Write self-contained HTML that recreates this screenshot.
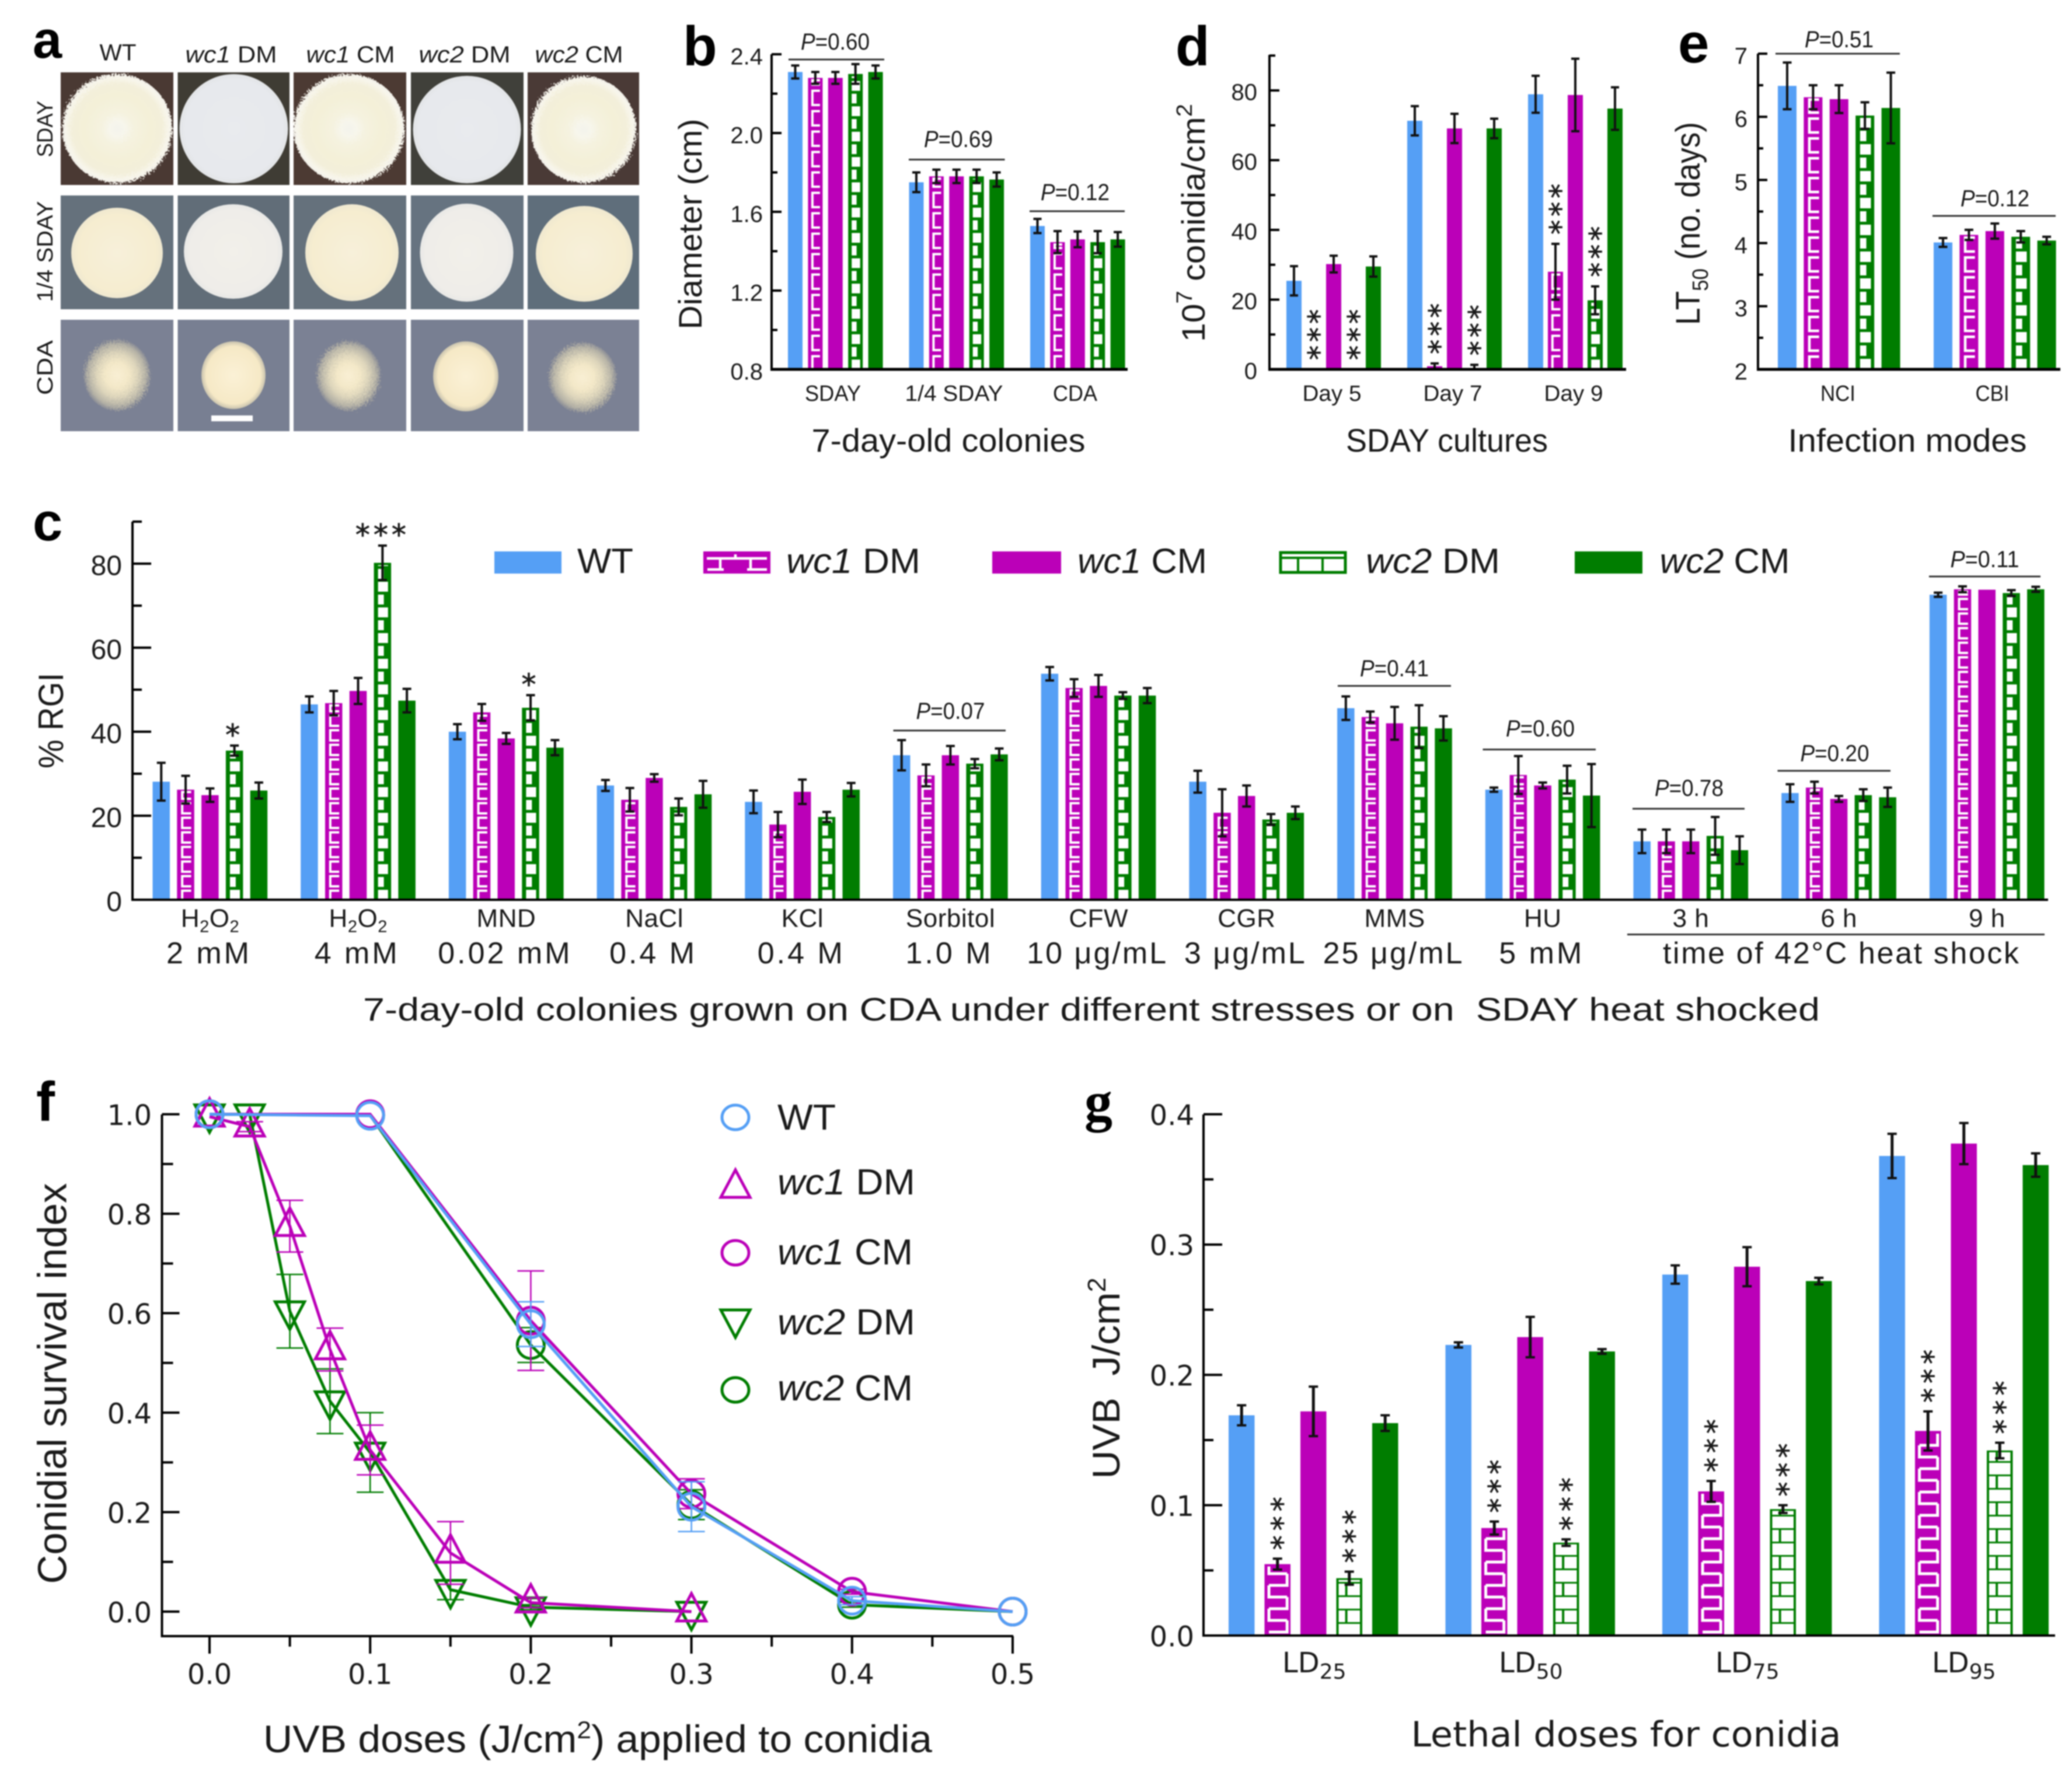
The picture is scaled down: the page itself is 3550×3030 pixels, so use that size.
<!DOCTYPE html>
<html lang="en">
<head>
<meta charset="utf-8">
<title>Conidial phenotype figure</title>
<style>
html,body{margin:0;padding:0;background:#fff;width:3550px;height:3030px;overflow:hidden}
svg{display:block;filter:blur(1px)}
text{font-family:"Liberation Sans",sans-serif;fill:#1a1a1a}
</style>
</head>
<body>
<svg id="fig" xmlns="http://www.w3.org/2000/svg" width="3550" height="3030" viewBox="0 0 3550 3030">
<defs>
<radialGradient id="gWT"><stop offset="0" stop-color="#f3f3ec"/><stop offset=".14" stop-color="#f7f6ec"/><stop offset=".3" stop-color="#f5f2df"/><stop offset=".6" stop-color="#f4f0d8"/><stop offset=".82" stop-color="#f3efda"/><stop offset=".94" stop-color="#f8f6ec"/><stop offset="1" stop-color="#f0eee8"/></radialGradient>
<radialGradient id="gWhite"><stop offset="0" stop-color="#e9ebee"/><stop offset=".9" stop-color="#e7e9ed"/><stop offset="1" stop-color="#e2e4e6"/></radialGradient>
<radialGradient id="gCream"><stop offset="0" stop-color="#f7f0da"/><stop offset=".85" stop-color="#f6edd0"/><stop offset="1" stop-color="#efe8d0"/></radialGradient>
<radialGradient id="gPale"><stop offset="0" stop-color="#f2f0ea"/><stop offset=".88" stop-color="#efede9"/><stop offset="1" stop-color="#e8e8e6"/></radialGradient>
<radialGradient id="gFuzzy"><stop offset="0" stop-color="#f9efd4"/><stop offset=".35" stop-color="#f3e8c8"/><stop offset=".6" stop-color="#ddd5bb"/><stop offset=".85" stop-color="#b5b2a6"/><stop offset=".97" stop-color="#8f9198"/><stop offset="1" stop-color="#7a8093"/></radialGradient>
<radialGradient id="gSolid"><stop offset="0" stop-color="#fbf1d6"/><stop offset=".85" stop-color="#f6e9c6"/><stop offset="1" stop-color="#c8c2ae"/></radialGradient>
<filter id="fz" x="-10%" y="-10%" width="120%" height="120%"><feTurbulence type="fractalNoise" baseFrequency="0.35" numOctaves="2" seed="4"/><feDisplacementMap in="SourceGraphic" scale="14"/></filter>
</defs>

<g>
<text x="56" y="99" font-size="90" font-weight="bold" style="fill:#000">a</text>
<g font-size="40">
<text x="202" y="103.5" text-anchor="middle" textLength="63" lengthAdjust="spacingAndGlyphs">WT</text>
<text x="396" y="107" text-anchor="middle" textLength="157" lengthAdjust="spacingAndGlyphs"><tspan font-style="italic">wc1</tspan> DM</text>
<text x="600.5" y="107" text-anchor="middle" textLength="152" lengthAdjust="spacingAndGlyphs"><tspan font-style="italic">wc1</tspan> CM</text>
<text x="796" y="107" text-anchor="middle" textLength="157" lengthAdjust="spacingAndGlyphs"><tspan font-style="italic">wc2</tspan> DM</text>
<text x="992" y="107" text-anchor="middle" textLength="151" lengthAdjust="spacingAndGlyphs"><tspan font-style="italic">wc2</tspan> CM</text>
</g>
<g font-size="38">
<text transform="rotate(-90 90 221)" x="90" y="221" text-anchor="middle" textLength="97" lengthAdjust="spacingAndGlyphs">SDAY</text>
<text transform="rotate(-90 90 431)" x="90" y="431" text-anchor="middle" textLength="173" lengthAdjust="spacingAndGlyphs">1/4 SDAY</text>
<text transform="rotate(-90 90 630)" x="90" y="630" text-anchor="middle" textLength="94" lengthAdjust="spacingAndGlyphs">CDA</text>
</g>
<g>
<rect x="104" y="124" width="193" height="193" fill="#4a3933"/>
<rect x="304.5" y="124" width="191.5" height="193" fill="#3f3c34"/>
<rect x="503" y="124" width="193" height="193" fill="#4c3a33"/>
<rect x="704" y="124" width="193" height="193" fill="#40403a"/>
<rect x="904" y="124" width="191" height="193" fill="#4a3a36"/>
<ellipse cx="201" cy="220.5" rx="94" ry="93.5" fill="url(#gWT)" filter="url(#fz)"/>
<ellipse cx="400.5" cy="220.5" rx="93" ry="93.5" fill="url(#gWhite)"/>
<ellipse cx="598" cy="220.5" rx="95" ry="93.5" fill="url(#gWT)" filter="url(#fz)"/>
<ellipse cx="800" cy="222" rx="92.5" ry="92" fill="url(#gWhite)"/>
<ellipse cx="1000" cy="222" rx="90" ry="91.5" fill="url(#gWT)" filter="url(#fz)"/>
</g>
<g>
<rect x="104" y="335" width="193" height="195" fill="#65717c"/>
<rect x="304.5" y="335" width="191.5" height="195" fill="#616d78"/>
<rect x="503" y="335" width="193" height="195" fill="#65717c"/>
<rect x="704" y="335" width="193" height="195" fill="#667380"/>
<rect x="904" y="335" width="191" height="195" fill="#5f6e7b"/>
<ellipse cx="200.5" cy="433.5" rx="78.5" ry="77.5" fill="url(#gCream)"/>
<ellipse cx="399.5" cy="431" rx="84.5" ry="81" fill="url(#gPale)"/>
<ellipse cx="603" cy="433" rx="80" ry="83" fill="url(#gCream)"/>
<ellipse cx="799.5" cy="433" rx="80" ry="84" fill="url(#gPale)"/>
<ellipse cx="1001" cy="435" rx="83" ry="82" fill="url(#gCream)"/>
</g>
<g>
<rect x="104" y="548" width="193" height="191" fill="#7b8194"/>
<rect x="304.5" y="548" width="191.5" height="191" fill="#787f92"/>
<rect x="503" y="548" width="193" height="191" fill="#7b8194"/>
<rect x="704" y="548" width="193" height="191" fill="#787f92"/>
<rect x="904" y="548" width="191" height="191" fill="#7b8194"/>
<ellipse cx="200.5" cy="643" rx="58" ry="62" fill="url(#gFuzzy)" filter="url(#fz)"/>
<ellipse cx="400" cy="643" rx="55" ry="58" fill="url(#gSolid)"/>
<ellipse cx="597" cy="644" rx="56" ry="61" fill="url(#gFuzzy)" filter="url(#fz)"/>
<ellipse cx="798" cy="645" rx="56" ry="60" fill="url(#gSolid)"/>
<ellipse cx="998" cy="647" rx="59" ry="61" fill="url(#gFuzzy)" filter="url(#fz)"/>
<rect x="362" y="712" width="71" height="10" fill="#fff"/>
</g>
</g>
<g id="charts"></g>
</svg>

<script>
// ---------- Panel b data ----------
const bCategories = ['SDAY', '1/4 SDAY', 'CDA'];
const bWT = [2.31, 1.75, 1.528];
const bWc1DM = [2.28, 1.78, 1.446];
const bWc1CM = [2.28, 1.78, 1.46];
const bWc2DM = [2.30, 1.78, 1.446];
const bWc2CM = [2.31, 1.764, 1.46];
const bErrWT = [.033, .05, .036];
const bErrWc1DM = [.03, .034, .056];
const bErrWc1CM = [.03, .034, .04];
const bErrWc2DM = [.05, .034, .056];
const bErrWc2CM = [.033, .036, .037];
const bMajor = [0.8, 1.2, 1.6, 2.0, 2.4];
const bMinor = [1.0, 1.4, 1.8, 2.2];

// ---------- Panel c data ----------
const cLine1 = ['H<tspan dy="9" font-size="29">2</tspan><tspan dy="-9">O</tspan><tspan dy="9" font-size="29">2</tspan>', 'H<tspan dy="9" font-size="29">2</tspan><tspan dy="-9">O</tspan><tspan dy="9" font-size="29">2</tspan>', 'MND', 'NaCl', 'KCl', 'Sorbitol', 'CFW', 'CGR', 'MMS', 'HU', '3 h', '6 h', '9 h'];
const cLine2 = ['2 mM', '4 mM', '0.02 mM', '0.4 M', '0.4 M', '1.0 M', '10 μg/mL', '3 μg/mL', '25 μg/mL', '5 mM'];
const cWT = [28.1, 46.5, 40, 27.2, 23.3, 34.4, 53.8, 28.1, 45.6, 26.2, 13.9, 25.4, 72.6];
const cWc1DM = [26.2, 46.8, 44.6, 23.8, 17.9, 29.6, 50.4, 20.7, 43.5, 29.7, 13.9, 26.7, 73.9];
const cWc1CM = [24.9, 49.7, 38.4, 29, 25.7, 34.4, 50.9, 24.7, 42, 27.2, 13.9, 24, 73.8];
const cWc2DM = [35.5, 80.2, 45.7, 22.1, 19.7, 32.4, 48.6, 19.1, 41.2, 28.6, 15.2, 24.9, 73];
const cWc2CM = [26, 47.4, 36.2, 25.1, 26.2, 34.6, 48.6, 20.7, 40.8, 24.8, 11.8, 24.4, 73.9];
const cErrWT = [4.5, 1.9, 1.8, 1.3, 2.7, 3.6, 1.6, 2.6, 2.8, .5, 2.8, 2.1, .5];
const cErrWc1DM = [3.3, 2.9, 2, 2.8, 3, 2.6, 2.1, 5.6, 1.3, 4.5, 2.8, 1.4, .7];
const cErrWc1CM = [1.6, 3.1, 1.3, .9, 2.9, 2.2, 2.6, 2.5, 3.9, .7, 2.8, .7, 0];
const cErrWc2DM = [1.2, 4.1, 3, 2, 1.2, 1.1, .8, 1.3, 5.1, 3.3, 4.5, 1.4, .7];
const cErrWc2CM = [1.9, 2.8, 1.8, 3.2, 1.6, 1.4, 1.8, 1.5, 2.9, 7.5, 3.3, 2.3, .6];
const cMajor = [0, 20, 40, 60, 80];
const cMinor = [10, 30, 50, 70, 90];

// ---------- Panel d data ----------
const dCategories = ['Day 5', 'Day 7', 'Day 9'];
const dWT = [25.4, 71.3, 78.9];
const dWc1DM = [0, .9, 28];
const dWc1CM = [30.2, 69.1, 78.7];
const dWc2DM = [0, .4, 19.8];
const dWc2CM = [29.5, 69.1, 74.8];
const dErrWT = [4.2, 4.2, 5.3];
const dErrWc1DM = [0, .8, 8];
const dErrWc1CM = [2.4, 4.2, 10.4];
const dErrWc2DM = [0, .9, 4];
const dErrWc2CM = [2.9, 2.8, 6.1];
const dMajor = [0, 20, 40, 60, 80];
const dMinor = [10, 30, 50, 70, 90];

// ---------- Panel e data ----------
const eCategories = ['NCI', 'CBI'];
const eWT = [6.49, 4.01];
const eWc1DM = [6.31, 4.13];
const eWc1CM = [6.28, 4.19];
const eWc2DM = [6.02, 4.10];
const eWc2CM = [6.14, 4.04];
const eErrWT = [.37, .07];
const eErrWc1DM = [.19, .08];
const eErrWc1CM = [.22, .12];
const eErrWc2DM = [.21, .09];
const eErrWc2CM = [.56, .06];
const eMajor = [2, 3, 4, 5, 6, 7];
const eMinor = [2.5, 3.5, 4.5, 5.5, 6.5];

// ---------- Panel f data ----------
const fDoseDM = [0, .025, .05, .075, .1, .15, .2, .3];
const fDoseCM = [0, .1, .2, .3, .4, .5];
const fWc1DM = [.995, .975, .775, .527, .325, .118, .018, 0];
const fWc2DM = [1, 1, .604, .423, .32, .044, .009, 0];
const fWT = [1, .997, .578, .211, .022, 0];
const fWc1CM = [1, 1, .585, .237, .04, 0];
const fWc2CM = [1, .998, .536, .215, .014, 0];
const fErrWc1DM = [0, .01, .052, .043, .05, .063, .01, 0];
const fErrWc2DM = [0, 0, .074, .065, .08, .02, .005, 0];
const fErrWT = [0, 0, .045, .05, .008, 0];
const fErrWc1CM = [0, 0, .1, .03, .005, 0];
const fErrWc2CM = [0, 0, .035, .03, .005, 0];
const fYMajor = [0, .2, .4, .6, .8, 1];
const fYMinor = [.1, .3, .5, .7, .9];
const fXMajor = [0, .1, .2, .3, .4, .5];
const fXMinor = [.05, .15, .25, .35, .45];

// ---------- Panel g data ----------
const gCategories = ['25', '50', '75', '95'];
const gWT = [.169, .223, .277, .368];
const gWc1DM = [.0548, .0825, .1106, .157];
const gWc1CM = [.172, .229, .283, .3775];
const gWc2DM = [.044, .0713, .097, .142];
const gWc2CM = [.163, .218, .272, .361];
const gErrWT = [.0077, .002, .007, .017];
const gErrWc1DM = [.0042, .005, .008, .015];
const gErrWc1CM = [.019, .0155, .015, .0158];
const gErrWc2DM = [.005, .0025, .003, .006];
const gErrWc2CM = [.006, .0018, .0025, .009];
const gMajor = [0, .1, .2, .3, .4];
const gMinor = [.05, .15, .25, .35];

const seriesKeys = ['wt', 'wc1-dm', 'wc1-cm', 'wc2-dm', 'wc2-cm'];
const BLUE = '#559ff5', MAG = '#bb00b8', GRN = '#007d00';
const NS = 'http://www.w3.org/2000/svg';
const root = document.getElementById('charts');

function add(parent, tag, attrs, name) {
  const el = document.createElementNS(NS, tag);
  for (const k in attrs) el.setAttribute(k, attrs[k]);
  
  
  parent.appendChild(el);
  return el;
}
function group(parent, name) { return add(parent, 'g', {}, name); }
function line(parent, x1, y1, x2, y2, stroke, sw, name) {
  return add(parent, 'line', {x1, y1, x2, y2, stroke, 'stroke-width': sw}, name);
}
function txt(parent, name, x, y, content, o) {
  o = o || {};
  const a = {x, y, 'font-size': o.size || 36, 'text-anchor': o.anchor || 'middle'};
  if (o.len) { a.textLength = o.len; a.lengthAdjust = o.adjust || 'spacingAndGlyphs'; }
  if (o.rot) a.transform = 'rotate(' + o.rot + ' ' + x + ' ' + y + ')';
  if (o.weight) a['font-weight'] = o.weight;
  if (o.ls) a['letter-spacing'] = o.ls;
  const el = add(parent, 'text', a, name);
  if (o.font) el.style.fontFamily = o.font;
  if (o.fill) el.style.fill = o.fill;
  if (o.star) { el.style.stroke = '#1a1a1a'; el.style.strokeWidth = '0.8px'; }
  el.innerHTML = content;
  return el;
}
const DJ = '"DejaVu Sans",sans-serif';

function yAxis(g, c) {
  const ax = group(g, 'y-axis');
  line(ax, c.x, c.top, c.x, c.bottom, '#000', c.sw || 4, 'y-axis-line');
  c.major.forEach(function (v) {
    line(ax, c.x, c.y(v), c.x + c.majLen, c.y(v), '#000', c.tsw || 4, 'y-major-tick');
    txt(ax, 'y-tick-label', c.labelX, c.y(v) + (c.dy || 0) + c.size * .36, c.fmt(v), {size: c.size, anchor: 'end', font: c.font});
  });
  c.minor.forEach(function (v) {
    line(ax, c.x, c.y(v), c.x + c.minLen, c.y(v), '#000', c.tsw || 4, 'y-minor-tick');
  });
}

function magentaPath(x, y, w, h, p, wide) {
  const b = y + h, top = y + 4;
  const cl = function (v) { return Math.max(top, Math.min(b, v)); };
  let d = '';
  if (wide) {
    const xl = x + w * .17, xr = x + w * .87;
    let left = true;
    for (let yy = b - 6; yy > top + 2; yy -= p) {
      const n = cl(yy - p);
      d += left ? 'M' + xl + ' ' + yy + 'H' + xr + 'V' + n : 'M' + xr + ' ' + yy + 'H' + xl + 'V' + n;
      left = !left;
    }
  } else {
    const xl = x + w * .3, xr = x + w * .82;
    for (let k = 0; b - k * p > top; k++) {
      const a = cl(b - k * p + 2), t = cl(b - k * p + 2 - p * .7);
      if (a - t > 2) d += 'M' + xr + ' ' + a + 'H' + xl + 'V' + t + 'H' + xr;
    }
  }
  return d;
}
function greenPath(x, y, w, h, p, gap, wide) {
  const b = y + h, top = y + (wide ? 3 : 4);
  const xl = x + (wide ? 4 : w * .24), xr = x + w - (wide ? 4 : w * .18);
  const cl = function (v) { return Math.max(top, Math.min(b, v)); };
  let d = '';
  for (let k = 0; b - k * p > top; k++) {
    const y1 = cl(b - k * p), y0 = cl(b - k * p - p + gap);
    if (y1 - y0 < 1) continue;
    if (k % 2 === 0) {
      d += 'M' + xl + ' ' + y0 + 'H' + xr + 'V' + y1 + 'H' + xl + 'Z';
    } else if (wide) {
      const s = xl + (xr - xl) * .36;
      d += 'M' + xl + ' ' + y0 + 'H' + (s - 2) + 'V' + y1 + 'H' + xl + 'Z';
      d += 'M' + (s + 2) + ' ' + y0 + 'H' + xr + 'V' + y1 + 'H' + (s + 2) + 'Z';
    } else {
      const s = xl + (xr - xl) * .58;
      d += 'M' + xl + ' ' + y0 + 'H' + s + 'V' + y1 + 'H' + xl + 'Z';
    }
  }
  return d;
}

function drawBars(g, c) {
  const colors = [BLUE, MAG, MAG, GRN, GRN];
  c.values.forEach(function (vals, s) {
    vals.forEach(function (v, i) {
      const x = c.x0 + i * c.groupStep + s * c.barStep;
      const y = c.y(v), h = c.y(c.floor) - y;
      const nm = 'bar-' + seriesKeys[s] + '-' + (i + 1);
      if (h > 0) {
        add(g, 'rect', {x, y, width: c.barW, height: h, fill: colors[s]}, nm);
        if (s === 1 && h > 6) add(g, 'path', {d: magentaPath(x, y, c.barW, h, c.magP, c.wide), fill: 'none', stroke: '#fff', 'stroke-width': c.magSw}, nm + '-hatch');
        if (s === 3 && h > 6) add(g, 'path', {d: greenPath(x, y, c.barW, h, c.grnP, c.grnGap, c.wide), fill: '#fff'}, nm + '-hatch');
      }
      const e = c.errors[s][i];
      if (e > 0) {
        const cx = x + c.barW / 2;
        const yT = c.y(v + e), yB = c.y(Math.max(c.floor, v - e));
        const eb = group(g, 'error-bar-' + seriesKeys[s] + '-' + (i + 1));
        line(eb, cx, yT, cx, yB, '#111', c.errSw, 'error-stem');
        line(eb, cx - c.capW / 2, yT, cx + c.capW / 2, yT, '#111', c.capSw, 'error-cap-top');
        line(eb, cx - c.capW / 2, yB, cx + c.capW / 2, yB, '#111', c.capSw, 'error-cap-bottom');
      }
    });
  });
}
function capTop(c, s, i) { return c.y(c.values[s][i] + c.errors[s][i]); }
function vStars(g, c, s, i, gap, ls) {
  const cx = c.x0 + i * c.groupStep + s * c.barStep + c.barW / 2;
  txt(g, 'significance-stars', cx + 26, capTop(c, s, i) - gap, '***', {size: 50, anchor: 'start', rot: -90, font: DJ, ls: ls, star: true});
}
function pBracket(g, val, x1, x2, y, tx, ty) {
  line(g, x1, y, x2, y, '#333', 3, 'p-value-bracket');
  txt(g, 'p-value-label', tx, ty, '<tspan font-style="italic">P</tspan>=' + val, {size: 40, len: 118});
}

// ---------- Panel b ----------
(function () {
  const g = group(root, 'panel-b-diameter-chart');
  const y = function (v) { return 633 - (v - .8) * 337.5; };
  txt(g, 'panel-label-b', 1170, 112, 'b', {size: 96, anchor: 'start', weight: 'bold', fill: '#000'});
  const c = {values: [bWT, bWc1DM, bWc1CM, bWc2DM, bWc2CM], errors: [bErrWT, bErrWc1DM, bErrWc1CM, bErrWc2DM, bErrWc2CM],
    x0: 1350, barStep: 34.4, barW: 25, groupStep: 207.5, y, floor: .8, capW: 14, errSw: 4, capSw: 4, magP: 35, magSw: 4, grnP: 21.7, grnGap: 5};
  drawBars(g, c);
  yAxis(g, {x: 1322, top: 93, bottom: 633, y, major: bMajor, minor: bMinor, majLen: 17, minLen: 10, labelX: 1307, size: 40, dy: 3, fmt: function (v) { return v.toFixed(1); }});
  line(g, 1320, 633, 1932, 633, '#000', 5, 'x-axis-line');
  bCategories.forEach(function (t, i) {
    txt(g, 'x-tick-label', 1427 + i * 207.5, 687, t, {size: 38, len: [96, 168, 76][i]});
  });
  txt(g, 'x-axis-title', 1625, 774, '7-day-old colonies', {size: 56, len: 469});
  txt(g, 'y-axis-title', 1202, 384, 'Diameter (cm)', {size: 56, rot: -90, len: 361});
  pBracket(g, '0.60', 1351, 1515, 102, 1431, 85);
  pBracket(g, '0.69', 1557, 1721.5, 273.5, 1642, 252);
  pBracket(g, '0.12', 1764, 1927, 362, 1842, 343);
})();

// ---------- Panel d ----------
(function () {
  const g = group(root, 'panel-d-conidia-chart');
  const y = function (v) { return 633 - v * 5.975; };
  txt(g, 'panel-label-d', 2014, 112, 'd', {size: 96, anchor: 'start', weight: 'bold', fill: '#000'});
  const c = {values: [dWT, dWc1DM, dWc1CM, dWc2DM, dWc2CM], errors: [dErrWT, dErrWc1DM, dErrWc1CM, dErrWc2DM, dErrWc2CM],
    x0: 2204, barStep: 34, barW: 26, groupStep: 207, y, floor: 0, capW: 14, errSw: 4, capSw: 4, magP: 35, magSw: 4, grnP: 21.7, grnGap: 5};
  drawBars(g, c);
  yAxis(g, {x: 2175, top: 94, bottom: 633, y, major: dMajor, minor: dMinor, majLen: 17, minLen: 10, labelX: 2154, size: 40, dy: 2, fmt: function (v) { return String(v); }});
  line(g, 2173, 633, 2786, 633, '#000', 5, 'x-axis-line');
  dCategories.forEach(function (t, i) {
    txt(g, 'x-tick-label', 2282 + i * 207, 687, t, {size: 38, len: 101});
    vStars(g, c, 1, i, 16, 6);
    vStars(g, c, 3, i, 16, 6);
  });
  txt(g, 'x-axis-title', 2479, 774, 'SDAY cultures', {size: 56, len: 346});
  txt(g, 'y-axis-title', 2064, 382, '10<tspan dy="-22" font-size="38">7</tspan><tspan dy="22"> conidia/cm</tspan><tspan dy="-22" font-size="38">2</tspan>', {size: 56, rot: -90, len: 408});
})();

// ---------- Panel e ----------
(function () {
  const g = group(root, 'panel-e-lt50-chart');
  const y = function (v) { return 633 - (v - 2) * 108.2; };
  txt(g, 'panel-label-e', 2875, 107, 'e', {size: 96, anchor: 'start', weight: 'bold', fill: '#000'});
  const c = {values: [eWT, eWc1DM, eWc1CM, eWc2DM, eWc2CM], errors: [eErrWT, eErrWc1DM, eErrWc1CM, eErrWc2DM, eErrWc2CM],
    x0: 3046, barStep: 44.4, barW: 32, groupStep: 267, y, floor: 2, capW: 15, errSw: 4, capSw: 4, magP: 34, magSw: 4.5, grnP: 23, grnGap: 5};
  drawBars(g, c);
  yAxis(g, {x: 3012, top: 92, bottom: 633, y, major: eMajor, minor: eMinor, majLen: 16, minLen: 9, labelX: 2994, size: 40, dy: 3, fmt: function (v) { return String(v); }});
  line(g, 3010, 633, 3530, 633, '#000', 5, 'x-axis-line');
  eCategories.forEach(function (t, i) {
    txt(g, 'x-tick-label', 3149 + i * 264.5, 687, t, {size: 38, len: [60, 58][i]});
  });
  txt(g, 'x-axis-title', 3268, 774, 'Infection modes', {size: 56, len: 409});
  txt(g, 'y-axis-title', 2912, 383, 'LT<tspan dy="14" font-size="38">50</tspan><tspan dy="-14"> (no. days)</tspan>', {size: 58, rot: -90, len: 348});
  pBracket(g, '0.51', 3042, 3255, 92, 3151, 81);
  pBracket(g, '0.12', 3311, 3522, 370, 3418, 353.5);
})();

// ---------- Panel c ----------
(function () {
  const g = group(root, 'panel-c-rgi-chart');
  const y = function (v) { return 1542 - v * 7.2; };
  txt(g, 'panel-label-c', 56, 926, 'c', {size: 92, anchor: 'start', weight: 'bold', fill: '#000'});
  const c = {values: [cWT, cWc1DM, cWc1CM, cWc2DM, cWc2CM], errors: [cErrWT, cErrWc1DM, cErrWc1CM, cErrWc2DM, cErrWc2CM],
    x0: 261.5, barStep: 41.8, barW: 29.5, groupStep: 253.7, y, floor: 0, capW: 15, errSw: 4, capSw: 4, magP: 25, magSw: 4, grnP: 22, grnGap: 5};
  drawBars(g, c);
  yAxis(g, {x: 227, top: 894, bottom: 1542, y, major: cMajor, minor: cMinor, majLen: 32, minLen: 16, labelX: 209, size: 48, dy: 2, fmt: function (v) { return String(v); }});
  line(g, 225, 1542, 3509, 1542, '#000', 4, 'x-axis-line');
  cLine1.forEach(function (t, i) {
    txt(g, 'category-label', 360 + i * 253.7, 1588.5, t, {size: 44, ls: .5});
  });
  cLine2.forEach(function (t, i) {
    txt(g, 'concentration-label', 358 + i * 253.7, 1651, t, {size: 52, ls: t.indexOf('μ') >= 0 ? 3 : 4});
  });
  line(g, 2788, 1601.5, 3503, 1601.5, '#333', 3, 'heat-shock-bracket');
  txt(g, 'heat-shock-label', 3154, 1651, 'time of 42°C heat shock', {size: 52, len: 610, adjust: 'spacing'});
  txt(g, 'x-axis-title', 1870, 1749, '7-day-old colonies grown on CDA under different stresses or on&#160;&#160;SDAY heat shocked', {size: 56, len: 2496});
  txt(g, 'y-axis-title', 108, 1235, '% RGI', {size: 60, rot: -90, len: 164});
  [[0, '*'], [1, '***'], [2, '*']].forEach(function (p) {
    const cx = c.x0 + p[0] * c.groupStep + 3 * c.barStep + c.barW / 2;
    txt(g, 'significance-stars', cx, capTop(c, 3, p[0]) - 1, p[1], {size: 50, font: DJ, ls: 6, star: true});
  });
  pBracket(g, '0.07', 1530.5, 1723, 1252, 1628.5, 1232);
  pBracket(g, '0.41', 2292, 2486, 1175.5, 2389, 1159);
  pBracket(g, '0.60', 2540.5, 2734, 1284.5, 2639, 1262);
  pBracket(g, '0.78', 2797, 2989, 1386, 2894, 1364);
  pBracket(g, '0.20', 3045.5, 3239, 1321, 3143.5, 1304.5);
  pBracket(g, '0.11', 3305, 3496, 988, 3400.5, 972);

  // legend
  const lg = group(g, 'legend');
  const lw = group(lg, 'legend-entry-wt');
  add(lw, 'rect', {x: 847, y: 945, width: 115, height: 38, fill: BLUE}, 'legend-swatch-wt');
  txt(lw, 'legend-label-wt', 989, 982, 'WT', {size: 60, anchor: 'start', len: 96});
  const l1 = group(lg, 'legend-entry-wc1-dm');
  add(l1, 'rect', {x: 1205, y: 945, width: 115, height: 38, fill: MAG}, 'legend-swatch-wc1-dm');
  add(l1, 'path', {d: 'M1211 957H1314M1234 957V975M1286 957V975M1260 950V957M1212 976H1240M1280 976H1314', fill: 'none', stroke: '#fff', 'stroke-width': 4.5}, 'legend-swatch-hatch');
  txt(l1, 'legend-label-wc1-dm', 1347, 982, '<tspan font-style="italic">wc1</tspan> DM', {size: 60, anchor: 'start', len: 230});
  const l2 = group(lg, 'legend-entry-wc1-cm');
  add(l2, 'rect', {x: 1700, y: 945, width: 118, height: 38, fill: MAG}, 'legend-swatch-wc1-cm');
  txt(l2, 'legend-label-wc1-cm', 1846, 982, '<tspan font-style="italic">wc1</tspan> CM', {size: 60, anchor: 'start', len: 222});
  const l3 = group(lg, 'legend-entry-wc2-dm');
  add(l3, 'rect', {x: 2194, y: 947, width: 111, height: 34, fill: '#fff', stroke: GRN, 'stroke-width': 5}, 'legend-swatch-wc2-dm');
  add(l3, 'path', {d: 'M2194 956H2305M2224 956V981M2266 956V981', fill: 'none', stroke: GRN, 'stroke-width': 4}, 'legend-swatch-hatch');
  txt(l3, 'legend-label-wc2-dm', 2340, 982, '<tspan font-style="italic">wc2</tspan> DM', {size: 60, anchor: 'start', len: 230});
  const l4 = group(lg, 'legend-entry-wc2-cm');
  add(l4, 'rect', {x: 2698, y: 945, width: 116, height: 38, fill: GRN}, 'legend-swatch-wc2-cm');
  txt(l4, 'legend-label-wc2-cm', 2843.5, 982, '<tspan font-style="italic">wc2</tspan> CM', {size: 60, anchor: 'start', len: 223});
})();

// ---------- Panel f ----------
(function () {
  const g = group(root, 'panel-f-survival-chart');
  const x = function (d) { return 359 + d * 2752; };
  const y = function (v) { return 2762 - v * 852.4; };
  txt(g, 'panel-label-f', 62, 1921, 'f', {size: 96, anchor: 'start', weight: 'bold', fill: '#000'});
  yAxis(g, {x: 277.5, top: 1910, bottom: 2804, y, major: fYMajor, minor: fYMinor, majLen: 30, minLen: 19, labelX: 260, size: 48, dy: 1, font: DJ, fmt: function (v) { return v.toFixed(1); }});
  const xa = group(g, 'x-axis');
  line(xa, 275.5, 2804, 1736, 2804, '#000', 4, 'x-axis-line');
  fXMajor.forEach(function (d) {
    line(xa, x(d), 2804, x(d), 2834, '#000', 4, 'x-major-tick');
    txt(xa, 'x-tick-label', x(d), 2886, d.toFixed(1), {size: 48, font: DJ});
  });
  fXMinor.forEach(function (d) {
    line(xa, x(d), 2804, x(d), 2822, '#000', 4, 'x-minor-tick');
  });
  txt(g, 'x-axis-title', 1024, 3003, 'UVB doses (J/cm<tspan dy="-24" font-size="42">2</tspan><tspan dy="24">) applied to conidia</tspan>', {size: 66, len: 1146});
  txt(g, 'y-axis-title', 113.5, 2371, 'Conidial survival index', {size: 70, rot: -90, len: 687});

  function marker(p, kind, cx, cy, col, name) {
    if (kind === 'circle') return add(p, 'circle', {cx, cy, r: 23, fill: 'none', stroke: col, 'stroke-width': 5}, name);
    const dir = kind === 'up' ? 1 : -1;
    const a = cy - 31 * dir, b = cy + 16 * dir;
    return add(p, 'polygon', {points: cx + ',' + a + ' ' + (cx - 25) + ',' + b + ' ' + (cx + 25) + ',' + b, fill: 'none', stroke: col, 'stroke-width': 5}, name);
  }
  function series(key, doses, vals, errs, col, kind) {
    const s = group(g, 'series-' + key);
    errs.forEach(function (e, i) {
      if (e <= 0) return;
      const cx = x(doses[i]), t = y(vals[i] + e), b = y(vals[i] - e);
      const eb = group(s, 'error-bar-' + key);
      line(eb, cx, t, cx, b, col, 2.5, 'error-stem');
      line(eb, cx - 23, t, cx + 23, t, col, 2.5, 'error-cap-top');
      line(eb, cx - 23, b, cx + 23, b, col, 2.5, 'error-cap-bottom');
    });
    const pts = doses.map(function (d, i) { return x(d) + ',' + y(vals[i]); }).join(' ');
    add(s, 'polyline', {points: pts, fill: 'none', stroke: col, 'stroke-width': 5}, 'line-' + key);
    doses.forEach(function (d, i) { marker(s, kind, x(d), y(vals[i]), col, 'marker-' + key); });
  }
  series('wc2-cm', fDoseCM, fWc2CM, fErrWc2CM, GRN, 'circle');
  series('wc2-dm', fDoseDM, fWc2DM, fErrWc2DM, GRN, 'down');
  series('wc1-dm', fDoseDM, fWc1DM, fErrWc1DM, MAG, 'up');
  series('wc1-cm', fDoseCM, fWc1CM, fErrWc1CM, MAG, 'circle');
  series('wt', fDoseCM, fWT, fErrWT, BLUE, 'circle');

  const lg = group(g, 'legend');
  function entry(key, label, cy, col, kind, base, len) {
    const e = group(lg, 'legend-entry-' + key);
    if (kind === 'circle') add(e, 'ellipse', {cx: 1260, cy, rx: 23, ry: 21, fill: 'none', stroke: col, 'stroke-width': 5}, 'legend-marker-' + key);
    else marker(e, kind, 1260, cy + (kind === 'up' ? 6 : -6), col, 'legend-marker-' + key);
    txt(e, 'legend-label-' + key, 1332, base, label, {size: 62, anchor: 'start', len});
  }
  entry('wt', 'WT', 1915, BLUE, 'circle', 1936, 100);
  entry('wc1-dm', '<tspan font-style="italic">wc1</tspan> DM', 2030, MAG, 'up', 2047, 236);
  entry('wc1-cm', '<tspan font-style="italic">wc1</tspan> CM', 2147, MAG, 'circle', 2167, 232);
  entry('wc2-dm', '<tspan font-style="italic">wc2</tspan> DM', 2267, GRN, 'down', 2287, 236);
  entry('wc2-cm', '<tspan font-style="italic">wc2</tspan> CM', 2382, GRN, 'circle', 2400, 232);
})();

// ---------- Panel g ----------
(function () {
  const g = group(root, 'panel-g-lethal-dose-chart');
  const y = function (v) { return 2803 - v * 2233.5; };
  txt(g, 'panel-label-g', 1858, 1920, 'g', {size: 96, anchor: 'start', weight: 'bold', fill: '#000', font: '"Liberation Serif",serif'});
  const c = {values: [gWT, gWc1DM, gWc1CM, gWc2DM, gWc2CM], errors: [gErrWT, gErrWc1DM, gErrWc1CM, gErrWc2DM, gErrWc2CM],
    x0: 2105, barStep: 61.5, barW: 44.5, groupStep: 371.5, y, floor: 0, capW: 16, errSw: 5, capSw: 4, magP: 20, magSw: 5, grnP: 23, grnGap: 3, wide: true};
  drawBars(g, c);
  yAxis(g, {x: 2062, top: 1910, bottom: 2803, y, major: gMajor, minor: gMinor, majLen: 32, minLen: 17, labelX: 2046, size: 48, dy: 1, font: DJ, fmt: function (v) { return v.toFixed(1); }});
  line(g, 2060, 2803, 3521, 2803, '#000', 4, 'x-axis-line');
  gCategories.forEach(function (t, i) {
    txt(g, 'x-tick-label', 2197 + i * 371, 2866, 'LD<tspan dy="11" font-size="36">' + t + '</tspan>', {size: 48, anchor: 'start', font: DJ});
    vStars(g, c, 1, i, 15, 8);
    vStars(g, c, 3, i, 15, 8);
  });
  txt(g, 'x-axis-title', 2786, 2993, 'Lethal doses for conidia', {size: 60, font: DJ, len: 737});
  txt(g, 'y-axis-title', 1918, 2362, 'UVB&#160;&#160;J/cm<tspan dy="-24" font-size="44">2</tspan>', {size: 66, rot: -90, len: 345});
})();
</script>
</body>
</html>
